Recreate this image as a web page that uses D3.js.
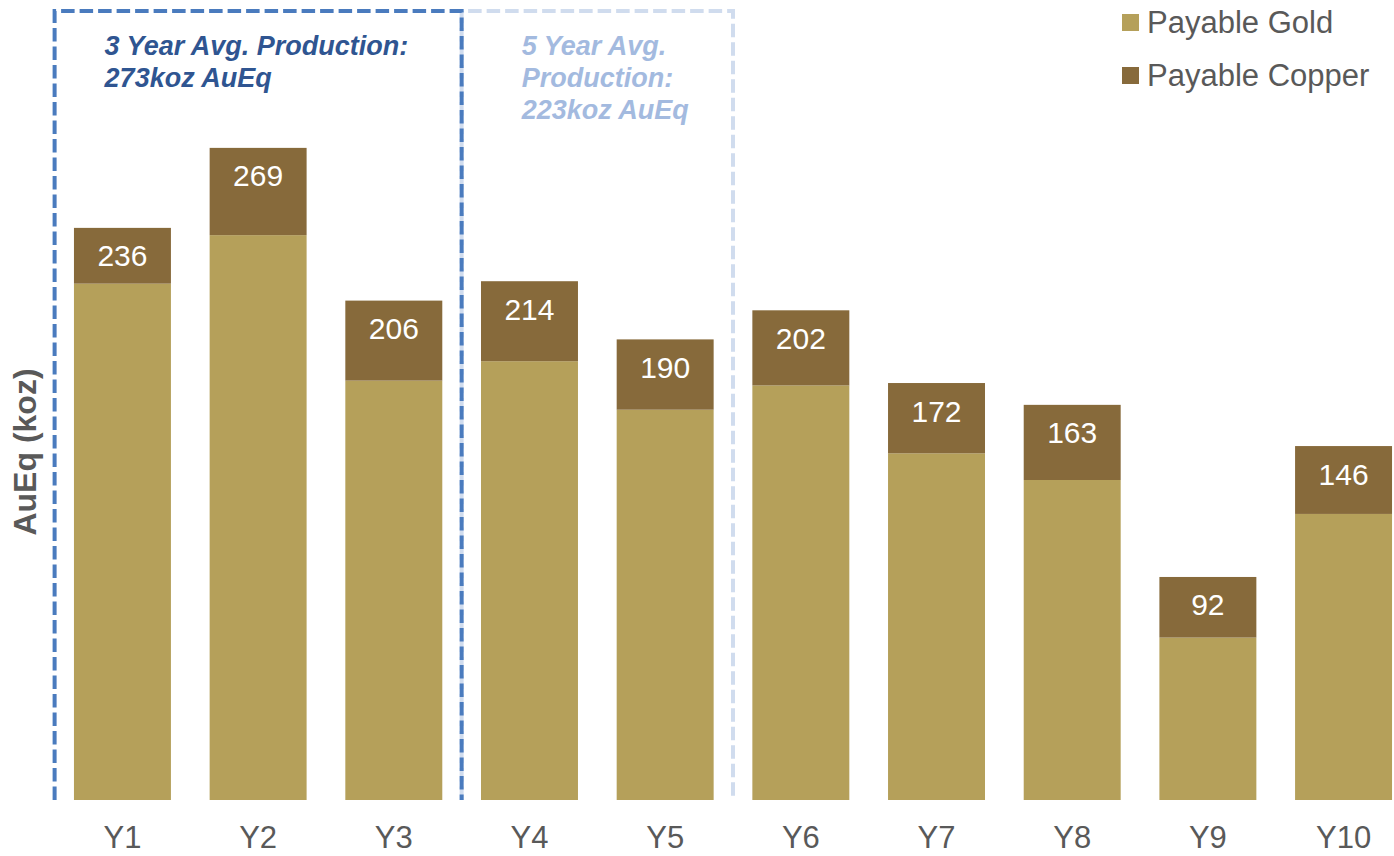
<!DOCTYPE html>
<html>
<head>
<meta charset="utf-8">
<script src="https://cdn.jsdelivr.net/npm/d3@7"></script>
<style>
  html, body { margin: 0; padding: 0; background: #ffffff; }
  svg { display: block; font-family: "Liberation Sans", Arial, sans-serif; }
</style>
</head>
<body>
<svg id="chart" width="1394" height="856"></svg>
<script>
// Annual production profile (koz AuEq)
const years = ["Y1", "Y2", "Y3", "Y4", "Y5", "Y6", "Y7", "Y8", "Y9", "Y10"];
const payableGold = [213, 233, 173, 181, 161, 171, 143, 132, 67, 118];
const payableCopper = [23, 36, 33, 33, 29, 31, 29, 31, 25, 28];
const seriesNames = ["Payable Gold", "Payable Copper"];

// Averaging windows highlighted with dashed frames (open at the bottom)
const avgFrames = [
  { from: "Y4", to: "Y5", lines: ["5 Year Avg.", "Production:", "223koz AuEq"], kind: "light", textOffset: 60 },
  { from: "Y1", to: "Y3", lines: ["3 Year Avg. Production:", "273koz AuEq"], kind: "dark", textOffset: 50 }
];

const colors = { gold: "#B5A05A", copper: "#876A3B" };
const frameStyle = {
  dark: { stroke: "#4A7BBE", text: "#2F5591" },
  light: { stroke: "#D0DCEE", text: "#A3BADF" }
};

const svg = d3.select("#chart");
const baseY = 800;

const x = d3.scaleBand()
  .domain(years)
  .range([54.6, 1411.4])
  .paddingInner(0.2853)
  .paddingOuter(0.1427);

const y = d3.scaleLinear().domain([0, 330]).range([baseY, 0]);

const rows = years.map((yr, i) => ({
  year: yr,
  gold: payableGold[i],
  copper: payableCopper[i],
  total: payableGold[i] + payableCopper[i]
}));

const stack = d3.stack().keys(["gold", "copper"]);
const layers = stack(rows);

// Stacked bars
svg.append("g").selectAll("g")
  .data(layers)
  .join("g")
  .attr("fill", d => colors[d.key])
  .selectAll("rect")
  .data(d => d)
  .join("rect")
  .attr("x", d => x(d.data.year))
  .attr("width", x.bandwidth())
  .attr("y", d => y(d[1]))
  .attr("height", d => y(d[0]) - y(d[1]));

// Total labels, placed just inside the top of each bar
svg.append("g").selectAll("text")
  .data(rows)
  .join("text")
  .attr("x", d => x(d.year) + x.bandwidth() / 2)
  .attr("y", d => y(d.total) + 28)
  .attr("dy", "0.35em")
  .attr("text-anchor", "middle")
  .attr("fill", "#ffffff")
  .attr("font-size", 30)
  .text(d => d.total);

// Category axis
const xAxis = svg.append("g")
  .attr("transform", `translate(0,${baseY})`)
  .call(d3.axisBottom(x).tickSize(0).tickPadding(26));
xAxis.select(".domain").remove();
xAxis.selectAll("text")
  .attr("font-size", 31)
  .attr("font-family", "Liberation Sans, Arial, sans-serif")
  .attr("fill", "#595959");

// Y-axis title
svg.append("text")
  .attr("transform", "translate(36,452) rotate(-90)")
  .attr("text-anchor", "middle")
  .attr("font-size", 32)
  .attr("font-weight", "bold")
  .attr("fill", "#595959")
  .text("AuEq (koz)");

// Dashed averaging frames
const gap = x.step() - x.bandwidth();
const frameTop = 11;
avgFrames.forEach(f => {
  const left = x(f.from) - gap / 2;
  const right = x(f.to) + x.bandwidth() + gap / 2;
  const st = frameStyle[f.kind];
  const g = svg.append("g");
  const p = d3.path();
  p.moveTo(left, baseY);
  p.lineTo(left, frameTop);
  p.lineTo(right, frameTop);
  p.lineTo(right, baseY);
  g.append("path")
    .attr("d", p.toString())
    .attr("fill", "none")
    .attr("stroke", st.stroke)
    .attr("stroke-width", 4)
    .attr("stroke-dasharray", "13.5,5");
  const text = g.append("text")
    .attr("fill", st.text)
    .attr("font-size", 27)
    .attr("font-weight", "bold")
    .attr("font-style", "italic");
  f.lines.forEach((ln, i) => {
    text.append("tspan")
      .attr("x", left + f.textOffset)
      .attr("y", 55 + i * 32)
      .text(ln);
  });
});

// Legend
const legend = svg.append("g").attr("transform", "translate(1122,0)");
const legendItems = [
  { name: seriesNames[0], color: colors.gold, y: 14 },
  { name: seriesNames[1], color: colors.copper, y: 67 }
];
legendItems.forEach(item => {
  legend.append("rect")
    .attr("x", 0)
    .attr("y", item.y)
    .attr("width", 17)
    .attr("height", 17)
    .attr("fill", item.color);
  legend.append("text")
    .attr("x", 25)
    .attr("y", item.y + 19)
    .attr("font-size", 31)
    .attr("fill", "#595959")
    .text(item.name);
});
</script>
</body>
</html>
